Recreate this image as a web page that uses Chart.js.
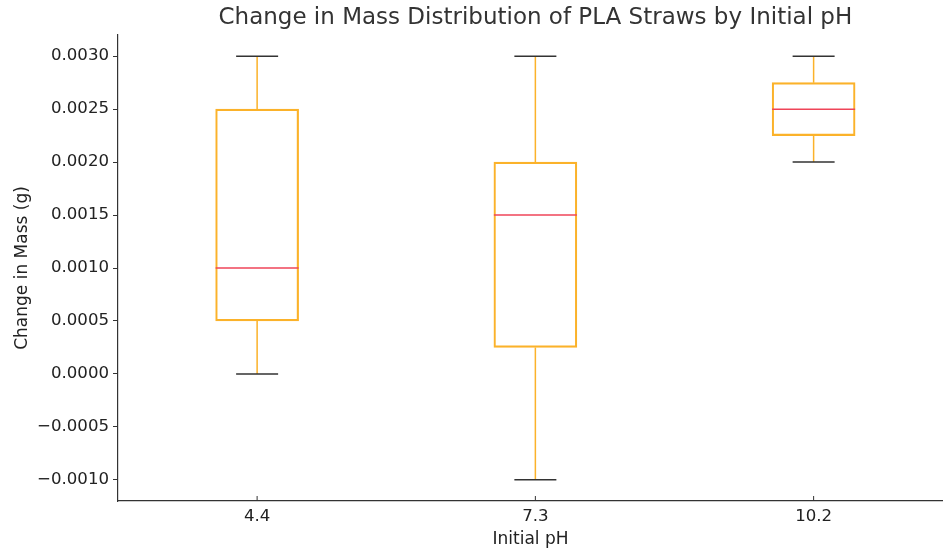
<!DOCTYPE html>
<html>
<head>
<meta charset="utf-8">
<script src="https://cdn.jsdelivr.net/npm/chart.js@4.4.1/dist/chart.umd.min.js"></script>
<style>
  html, body { margin: 0; padding: 0; background: #fff; }
  #wrap { width: 943px; height: 550px; }
</style>
</head>
<body>
<div id="wrap"><canvas id="myChart" width="943" height="550"></canvas></div>
<script>
// box plot data, one entry per initial pH
const phLabels = ['4.4', '7.3', '10.2'];
const positions = [1, 2, 3];
const whiskerLow = [0.0, -0.001, 0.002];
const q1 = [0.0005, 0.00025, 0.00225];
const median = [0.001, 0.0015, 0.0025];
const q3 = [0.0025, 0.002, 0.00275];
const whiskerHigh = [0.003, 0.003, 0.003];
const yTicks = [-0.001, -0.0005, 0, 0.0005, 0.001, 0.0015, 0.002, 0.0025, 0.003];

const FONT = "'DejaVu Sans', sans-serif";
const ORANGE = '#fbb22a';
const RED = '#ef4458';
const CAP = '#333333';

const boxData = positions.map((p, i) => ({ x: p, y: [q1[i], q3[i]] }));

// whiskers, caps, medians, inward x ticks and the title
const boxExtras = {
    id: 'boxExtras',
    afterDatasetsDraw(chart) {
        const ctx = chart.ctx;
        const xs = chart.scales.x;
        const ys = chart.scales.y;
        ctx.save();
        positions.forEach((p, i) => {
            const cx = xs.getPixelForValue(p);
            const halfBox = 41.5;
            const halfCap = 21;
            // whiskers
            ctx.strokeStyle = ORANGE;
            ctx.lineWidth = 1.5;
            ctx.beginPath();
            ctx.moveTo(cx, ys.getPixelForValue(q3[i]));
            ctx.lineTo(cx, ys.getPixelForValue(whiskerHigh[i]));
            ctx.moveTo(cx, ys.getPixelForValue(q1[i]));
            ctx.lineTo(cx, ys.getPixelForValue(whiskerLow[i]));
            ctx.stroke();
            // caps
            ctx.strokeStyle = CAP;
            ctx.beginPath();
            [whiskerHigh[i], whiskerLow[i]].forEach(v => {
                const y = ys.getPixelForValue(v);
                ctx.moveTo(cx - halfCap, y);
                ctx.lineTo(cx + halfCap, y);
            });
            ctx.stroke();
            // median
            ctx.strokeStyle = RED;
            ctx.beginPath();
            const my = ys.getPixelForValue(median[i]);
            ctx.moveTo(cx - halfBox, my);
            ctx.lineTo(cx + halfBox, my);
            ctx.stroke();
            // inward tick on x axis
            ctx.strokeStyle = '#333';
            ctx.lineWidth = 1;
            ctx.beginPath();
            ctx.moveTo(cx, chart.chartArea.bottom);
            ctx.lineTo(cx, chart.chartArea.bottom - 5);
            ctx.stroke();
        });
        // title
        ctx.fillStyle = '#333';
        ctx.font = '23px ' + FONT;
        ctx.textAlign = 'center';
        ctx.textBaseline = 'middle';
        ctx.fillText('Change in Mass Distribution of PLA Straws by Initial pH', xs.getPixelForValue(2), 18);
        ctx.restore();
    }
};

const myChart = new Chart(document.getElementById('myChart'), {
    type: 'bar',
    data: {
        datasets: [{
            label: 'IQR',
            data: boxData,
            backgroundColor: 'rgba(0,0,0,0)',
            borderColor: ORANGE,
            borderWidth: 1.5,
            borderSkipped: false,
            barThickness: 83
        }]
    },
    options: {
        responsive: false,
        animation: false,
        layout: { padding: { top: 35, right: 0, left: 0, bottom: 0 } },
        plugins: {
            legend: { display: false },
            tooltip: { enabled: false }
        },
        scales: {
            x: {
                type: 'linear',
                offset: false,
                min: 0.5,
                max: 3.465,
                afterBuildTicks: (scale) => { scale.ticks = positions.map(v => ({ value: v })); },
                afterFit: (scale) => { scale.height = 49; },
                grid: { display: false, drawTicks: false, offset: false },
                border: { display: true, color: '#333', width: 1.2 },
                ticks: {
                    padding: 6,
                    color: '#222',
                    font: { family: FONT, size: 16.6 },
                    callback: (v) => phLabels[positions.indexOf(v)]
                },
                title: {
                    display: true,
                    text: 'Initial pH',
                    color: '#222',
                    font: { family: FONT, size: 17 },
                    padding: { top: 1, bottom: 0 }
                }
            },
            y: {
                min: -0.0012,
                max: 0.0032,
                afterBuildTicks: (scale) => { scale.ticks = yTicks.map(v => ({ value: v })); },
                afterFit: (scale) => { scale.width = 118; },
                grid: { display: true, drawOnChartArea: false, drawTicks: true, tickLength: 5, color: '#333' },
                border: { display: true, color: '#333', width: 1.2 },
                ticks: {
                    padding: 4,
                    color: '#222',
                    font: { family: FONT, size: 16.6 },
                    callback: (v) => v.toFixed(4).replace('-', '\u2212')
                },
                title: {
                    display: true,
                    text: 'Change in Mass (g)',
                    color: '#222',
                    font: { family: FONT, size: 17 },
                    padding: { top: 12, bottom: 0 }
                }
            }
        }
    },
    plugins: [boxExtras]
});
</script>
</body>
</html>
